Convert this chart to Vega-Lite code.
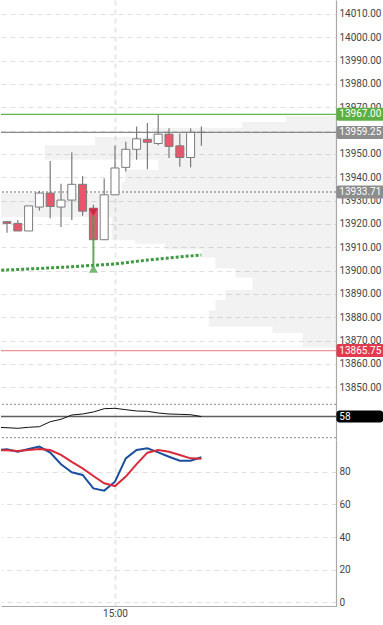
{
  "$schema": "https://vega.github.io/schema/vega-lite/v6.json",
  "padding": 0,
  "autosize": {"type": "pad"},
  "background": "white",
  "spacing": 0,
  "config": {
    "view": {"stroke": null},
    "font": "Roboto",
    "axis": {
      "labelFont": "Roboto",
      "labelFontSize": 10,
      "labelColor": "#444444",
      "labelOverlap": false,
      "domainColor": "#a9a9a9",
      "domainWidth": 1.2,
      "ticks": false,
      "gridColor": "#e0e0e0",
      "gridDash": [5, 4],
      "gridWidth": 1
    }
  },
  "datasets": {
    "candles": [
      {"time": "2021-03-01T14:50:00", "open": 13921.0, "high": 13921.0, "low": 13916.25, "close": 13920.25},
      {"time": "2021-03-01T14:51:00", "open": 13920.25, "high": 13921.75, "low": 13917.0, "close": 13917.0},
      {"time": "2021-03-01T14:52:00", "open": 13917.0, "high": 13927.75, "low": 13917.0, "close": 13927.75},
      {"time": "2021-03-01T14:53:00", "open": 13927.25, "high": 13934.25, "low": 13925.75, "close": 13933.25},
      {"time": "2021-03-01T14:54:00", "open": 13933.25, "high": 13947.0, "low": 13922.5, "close": 13927.5},
      {"time": "2021-03-01T14:55:00", "open": 13927.25, "high": 13937.25, "low": 13918.75, "close": 13930.25},
      {"time": "2021-03-01T14:56:00", "open": 13930.25, "high": 13950.75, "low": 13921.75, "close": 13937.0},
      {"time": "2021-03-01T14:57:00", "open": 13937.0, "high": 13940.5, "low": 13923.5, "close": 13925.5},
      {"time": "2021-03-01T14:58:00", "open": 13926.75, "high": 13928.25, "low": 13913.25, "close": 13913.25},
      {"time": "2021-03-01T14:59:00", "open": 13913.25, "high": 13939.5, "low": 13913.25, "close": 13932.5},
      {"time": "2021-03-01T15:00:00", "open": 13932.5, "high": 13953.5, "low": 13932.5, "close": 13944.0},
      {"time": "2021-03-01T15:01:00", "open": 13944.25, "high": 13955.25, "low": 13942.5, "close": 13952.0},
      {"time": "2021-03-01T15:02:00", "open": 13952.0, "high": 13961.75, "low": 13947.5, "close": 13956.5},
      {"time": "2021-03-01T15:03:00", "open": 13956.25, "high": 13963.25, "low": 13943.5, "close": 13955.0},
      {"time": "2021-03-01T15:04:00", "open": 13954.5, "high": 13967.0, "low": 13953.75, "close": 13958.5},
      {"time": "2021-03-01T15:05:00", "open": 13958.5, "high": 13961.0, "low": 13948.25, "close": 13953.25},
      {"time": "2021-03-01T15:06:00", "open": 13953.5, "high": 13958.75, "low": 13944.5, "close": 13948.5},
      {"time": "2021-03-01T15:07:00", "open": 13948.5, "high": 13961.0, "low": 13944.25, "close": 13959.25},
      {"time": "2021-03-01T15:08:00", "open": 13959.25, "high": 13961.75, "low": 13953.5, "close": 13959.25}
    ],
    "ind": [
      {"time": "2021-03-01T14:49:00", "ma": 13900.07, "k": 93.3, "d": 93.4, "osc": 38.7},
      {"time": "2021-03-01T14:50:00", "ma": 13900.29, "k": 93.9, "d": 93.3, "osc": 38.0},
      {"time": "2021-03-01T14:51:00", "ma": 13900.5, "k": 92.4, "d": 92.8, "osc": 36.9},
      {"time": "2021-03-01T14:52:00", "ma": 13900.71, "k": 94.0, "d": 93.4, "osc": 38.7},
      {"time": "2021-03-01T14:53:00", "ma": 13900.93, "k": 95.5, "d": 94.0, "osc": 39.8},
      {"time": "2021-03-01T14:54:00", "ma": 13901.19, "k": 91.8, "d": 93.4, "osc": 48.7},
      {"time": "2021-03-01T14:55:00", "ma": 13901.44, "k": 84.7, "d": 90.4, "osc": 53.1},
      {"time": "2021-03-01T14:56:00", "ma": 13901.66, "k": 79.8, "d": 86.1, "osc": 60.8},
      {"time": "2021-03-01T14:57:00", "ma": 13902.0, "k": 78.1, "d": 82.2, "osc": 62.6},
      {"time": "2021-03-01T14:58:00", "ma": 13902.3, "k": 69.9, "d": 77.5, "osc": 66.2},
      {"time": "2021-03-01T14:59:00", "ma": 13902.56, "k": 68.5, "d": 73.0, "osc": 72.1},
      {"time": "2021-03-01T15:00:00", "ma": 13902.86, "k": 74.0, "d": 71.3, "osc": 72.8},
      {"time": "2021-03-01T15:01:00", "ma": 13903.41, "k": 88.3, "d": 77.1, "osc": 70.3},
      {"time": "2021-03-01T15:02:00", "ma": 13903.97, "k": 93.4, "d": 84.8, "osc": 68.0},
      {"time": "2021-03-01T15:03:00", "ma": 13904.53, "k": 94.5, "d": 91.8, "osc": 67.4},
      {"time": "2021-03-01T15:04:00", "ma": 13905.0, "k": 92.0, "d": 93.4, "osc": 64.4},
      {"time": "2021-03-01T15:05:00", "ma": 13905.47, "k": 89.3, "d": 92.4, "osc": 62.6},
      {"time": "2021-03-01T15:06:00", "ma": 13905.9, "k": 86.9, "d": 90.4, "osc": 62.0},
      {"time": "2021-03-01T15:07:00", "ma": 13906.33, "k": 86.9, "d": 88.3, "osc": 61.3},
      {"time": "2021-03-01T15:08:00", "ma": 13906.71, "k": 89.0, "d": 88.1, "osc": 58.0}
    ],
    "signals": [
      {"time": "2021-03-01T14:58:00", "sell": 13925.0, "from": 13923.5, "to": 13901.0, "buy": 13900.75}
    ],
    "profile": [
      {"lo": 13963.75, "hi": 13966.25, "vol": 15},
      {"lo": 13961.25, "hi": 13963.75, "vol": 28},
      {"lo": 13957.25, "hi": 13961.25, "vol": 55},
      {"lo": 13953.75, "hi": 13957.25, "vol": 72},
      {"lo": 13947.5, "hi": 13953.75, "vol": 87},
      {"lo": 13943.25, "hi": 13947.5, "vol": 53},
      {"lo": 13938.0, "hi": 13943.25, "vol": 63},
      {"lo": 13933.25, "hi": 13938.0, "vol": 64},
      {"lo": 13923.0, "hi": 13933.25, "vol": 100},
      {"lo": 13913.0, "hi": 13923.0, "vol": 67},
      {"lo": 13911.5, "hi": 13913.0, "vol": 60},
      {"lo": 13909.0, "hi": 13911.5, "vol": 51},
      {"lo": 13905.5, "hi": 13909.0, "vol": 40},
      {"lo": 13901.0, "hi": 13905.5, "vol": 36},
      {"lo": 13897.0, "hi": 13901.0, "vol": 30},
      {"lo": 13891.75, "hi": 13897.0, "vol": 25},
      {"lo": 13887.5, "hi": 13891.75, "vol": 33},
      {"lo": 13883.0, "hi": 13887.5, "vol": 36},
      {"lo": 13876.0, "hi": 13883.0, "vol": 38},
      {"lo": 13873.25, "hi": 13876.0, "vol": 19},
      {"lo": 13867.0, "hi": 13873.25, "vol": 10}
    ],
    "priceTags": [
      {"price": 13967.0, "kind": "high"},
      {"price": 13959.25, "kind": "last"},
      {"price": 13933.71, "kind": "mean"},
      {"price": 13865.75, "kind": "low"}
    ],
    "oscBands": [{"level": 80}, {"level": 20}],
    "oscTag": [{"value": 58}]
  },
  "resolve": {"scale": {"x": "independent", "y": "independent"}},
  "vconcat": [
    {
      "width": 335,
      "height": 395,
      "resolve": {"scale": {"x": "independent"}, "axis": {"x": "independent"}},
      "layer": [
        {
          "data": {"name": "profile"},
          "mark": {"type": "rect", "color": "#000000", "opacity": 0.05},
          "encoding": {
            "x": {"field": "vol", "type": "quantitative", "scale": {"domain": [0, 100], "reverse": true, "nice": false, "zero": false, "padding": 0}, "axis": null},
            "x2": {"datum": 0},
            "y": {
              "field": "lo", "type": "quantitative",
              "scale": {"domain": [13846.7, 14016.0], "nice": false, "zero": false, "padding": 0},
              "axis": {
                "orient": "right", "title": null, "grid": true, "format": ".2f", "labelPadding": 3, "tickCount": 40,
                "values": [13850, 13860, 13870, 13880, 13890, 13900, 13910, 13920, 13930, 13940, 13950, 13960, 13970, 13980, 13990, 14000, 14010]
              }
            },
            "y2": {"field": "hi"}
          }
        },
        {
          "layer": [
            {
              "data": {"name": "priceTags"},
              "mark": {"type": "rule", "strokeWidth": 1.2},
              "encoding": {
                "y": {"field": "price", "type": "quantitative", "title": null},
                "stroke": {"field": "kind", "type": "nominal", "legend": null,
                  "scale": {"domain": ["high", "last", "mean", "low"], "range": ["#66b34d", "#8a8a8a", "#6e6e6e", "#f2939c"]}},
                "strokeDash": {"field": "kind", "type": "nominal", "legend": null,
                  "scale": {"domain": ["high", "last", "mean", "low"], "range": [[1, 0], [1, 0], [2, 2], [1, 0]]}}
              }
            },
            {
              "mark": {"type": "rule", "stroke": "#a8101c", "strokeWidth": 2, "strokeDash": [2, 1.2], "clip": true},
              "encoding": {
                "x": {"datum": {"year": 2021, "month": 3, "date": 1, "hours": 14, "minutes": 49, "seconds": 26, "milliseconds": 670}, "type": "temporal"},
                "x2": {"datum": {"year": 2021, "month": 3, "date": 1, "hours": 15, "minutes": 8}},
                "y": {"datum": 14011.75, "type": "quantitative"}
              }
            },
            {
              "mark": {"type": "rule", "stroke": "#111111", "strokeWidth": 1.5, "clip": true},
              "encoding": {
                "x": {"datum": {"year": 2021, "month": 3, "date": 1, "hours": 14, "minutes": 49, "seconds": 26, "milliseconds": 670}, "type": "temporal"},
                "x2": {"datum": {"year": 2021, "month": 3, "date": 1, "hours": 15, "minutes": 8}},
                "y": {"datum": 13875.0, "type": "quantitative"}
              }
            },
            {
              "data": {"name": "ind"},
              "mark": {"type": "line", "stroke": "#3f9a43", "strokeWidth": 3, "strokeDash": [3, 2], "clip": true},
              "encoding": {
                "x": {"field": "time", "type": "temporal"},
                "y": {"field": "ma", "type": "quantitative", "title": null}
              }
            },
            {
              "data": {"name": "candles"},
              "mark": {"type": "rule", "stroke": "#7b7b7b", "strokeWidth": 1.2, "clip": true},
              "encoding": {
                "x": {
                  "field": "time", "type": "temporal",
                  "scale": {"nice": false, "padding": 0, "domain": [
                    {"year": 2021, "month": 3, "date": 1, "hours": 14, "minutes": 49, "seconds": 26, "milliseconds": 670},
                    {"year": 2021, "month": 3, "date": 1, "hours": 15, "minutes": 20, "seconds": 27, "milliseconds": 800}
                  ]},
                  "axis": {
                    "title": null, "labels": false, "domain": false, "ticks": false, "grid": true,
                    "gridWidth": 2, "gridColor": "#e8e8e8", "gridDash": [5, 4],
                    "values": [{"year": 2021, "month": 3, "date": 1, "hours": 15, "minutes": 0}]
                  }
                },
                "y": {"field": "low", "type": "quantitative", "title": null},
                "y2": {"field": "high"}
              }
            },
            {
              "data": {"name": "candles"},
              "mark": {"type": "bar", "size": 8, "stroke": "#7b7b7b", "strokeWidth": 1, "clip": true},
              "encoding": {
                "x": {"field": "time", "type": "temporal"},
                "y": {"field": "open", "type": "quantitative", "title": null},
                "y2": {"field": "close"},
                "fill": {"condition": {"test": "datum.close >= datum.open", "value": "#ffffff"}, "value": "#e8566c"}
              }
            },
            {
              "data": {"name": "signals"},
              "mark": {"type": "point", "shape": "triangle-down", "filled": true, "size": 75, "color": "#cf2238", "opacity": 0.9},
              "encoding": {
                "x": {"field": "time", "type": "temporal"},
                "y": {"field": "sell", "type": "quantitative", "title": null}
              }
            },
            {
              "data": {"name": "signals"},
              "mark": {"type": "rule", "stroke": "#4f9f4f", "strokeWidth": 2, "opacity": 0.9},
              "encoding": {
                "x": {"field": "time", "type": "temporal"},
                "y": {"field": "from", "type": "quantitative", "title": null},
                "y2": {"field": "to"}
              }
            },
            {
              "data": {"name": "signals"},
              "mark": {"type": "point", "shape": "triangle-up", "filled": true, "size": 80, "color": "#5fae5f", "opacity": 0.85},
              "encoding": {
                "x": {"field": "time", "type": "temporal"},
                "y": {"field": "buy", "type": "quantitative", "title": null}
              }
            },
            {
              "data": {"name": "priceTags"},
              "mark": {"type": "bar", "size": 13, "cornerRadius": 2, "clip": false},
              "encoding": {
                "x": {"datum": {"year": 2021, "month": 3, "date": 1, "hours": 15, "minutes": 20, "seconds": 30}, "type": "temporal"},
                "x2": {"datum": {"year": 2021, "month": 3, "date": 1, "hours": 15, "minutes": 24, "seconds": 55}},
                "y": {"field": "price", "type": "quantitative", "title": null},
                "fill": {"field": "kind", "type": "nominal", "legend": null,
                  "scale": {"domain": ["high", "last", "mean", "low"], "range": ["#5cb043", "#8d8d8d", "#8d8d8d", "#e23b50"]}}
              }
            },
            {
              "data": {"name": "priceTags"},
              "mark": {"type": "text", "align": "left", "baseline": "middle", "fontSize": 10, "font": "Roboto", "color": "#ffffff", "clip": false},
              "encoding": {
                "x": {"datum": {"year": 2021, "month": 3, "date": 1, "hours": 15, "minutes": 20, "seconds": 46}, "type": "temporal"},
                "y": {"field": "price", "type": "quantitative", "title": null},
                "text": {"field": "price", "type": "quantitative", "format": ".2f"}
              }
            }
          ]
        }
      ]
    },
    {
      "width": 335,
      "height": 45,
      "layer": [
        {
          "data": {"name": "oscBands"},
          "mark": {"type": "rule", "stroke": "#8a8a8a", "strokeWidth": 1, "strokeDash": [2, 2]},
          "encoding": {
            "y": {
              "field": "level", "type": "quantitative",
              "scale": {"domain": [15.9, 96.7], "nice": false, "zero": false, "padding": 0},
              "axis": {"orient": "right", "title": null, "labels": false, "grid": false, "ticks": false}
            }
          }
        },
        {
          "mark": {"type": "rule", "stroke": "#e3e3e3", "strokeWidth": 1, "strokeDash": [5, 4]},
          "encoding": {"y": {"datum": 53, "type": "quantitative"}}
        },
        {
          "data": {"name": "oscTag"},
          "mark": {"type": "rule", "stroke": "#5e5e5e", "strokeWidth": 1.5},
          "encoding": {"y": {"field": "value", "type": "quantitative", "title": null}}
        },
        {
          "data": {"name": "ind"},
          "mark": {"type": "line", "stroke": "#111111", "strokeWidth": 1, "clip": true},
          "encoding": {
            "x": {
              "field": "time", "type": "temporal",
              "scale": {"nice": false, "padding": 0, "domain": [
                {"year": 2021, "month": 3, "date": 1, "hours": 14, "minutes": 49, "seconds": 26, "milliseconds": 670},
                {"year": 2021, "month": 3, "date": 1, "hours": 15, "minutes": 20, "seconds": 27, "milliseconds": 800}
              ]},
              "axis": {
                "title": null, "labels": false, "domain": false, "ticks": false, "grid": true,
                "gridWidth": 2, "gridColor": "#e8e8e8", "gridDash": [5, 4],
                "values": [{"year": 2021, "month": 3, "date": 1, "hours": 15, "minutes": 0}]
              }
            },
            "y": {"field": "osc", "type": "quantitative", "title": null}
          }
        },
        {
          "data": {"name": "oscTag"},
          "mark": {"type": "bar", "size": 12, "cornerRadius": 3, "fill": "#000000", "clip": false},
          "encoding": {
            "x": {"datum": {"year": 2021, "month": 3, "date": 1, "hours": 15, "minutes": 20, "seconds": 30}, "type": "temporal"},
            "x2": {"datum": {"year": 2021, "month": 3, "date": 1, "hours": 15, "minutes": 24, "seconds": 50}},
            "y": {"field": "value", "type": "quantitative", "title": null}
          }
        },
        {
          "data": {"name": "oscTag"},
          "mark": {"type": "text", "align": "left", "baseline": "middle", "fontSize": 10, "font": "Roboto", "color": "#ffffff", "clip": false},
          "encoding": {
            "x": {"datum": {"year": 2021, "month": 3, "date": 1, "hours": 15, "minutes": 20, "seconds": 46}, "type": "temporal"},
            "y": {"field": "value", "type": "quantitative", "title": null},
            "text": {"field": "value", "type": "quantitative", "format": "d"}
          }
        }
      ]
    },
    {
      "width": 335,
      "height": 166,
      "data": {"name": "ind"},
      "layer": [
        {
          "mark": {"type": "line", "stroke": "#1c4e9e", "strokeWidth": 2, "clip": true},
          "encoding": {
            "x": {
              "field": "time", "type": "temporal",
              "scale": {"nice": false, "padding": 0, "domain": [
                {"year": 2021, "month": 3, "date": 1, "hours": 14, "minutes": 49, "seconds": 26, "milliseconds": 670},
                {"year": 2021, "month": 3, "date": 1, "hours": 15, "minutes": 20, "seconds": 27, "milliseconds": 800}
              ]},
              "axis": {
                "orient": "bottom", "title": null, "format": "%H:%M", "labelFlush": false, "labelPadding": 2,
                "ticks": false, "grid": true, "gridWidth": 2, "gridColor": "#e8e8e8", "gridDash": [5, 4],
                "values": [{"year": 2021, "month": 3, "date": 1, "hours": 15, "minutes": 0}]
              }
            },
            "y": {
              "field": "k", "type": "quantitative",
              "scale": {"domain": [-2.27, 99.57], "nice": false, "zero": false, "padding": 0},
              "axis": {"orient": "right", "title": null, "grid": true, "format": "d", "labelPadding": 3, "tickCount": 10, "values": [0, 20, 40, 60, 80]}
            }
          }
        },
        {
          "mark": {"type": "line", "stroke": "#d92b3a", "strokeWidth": 2, "clip": true},
          "encoding": {
            "x": {"field": "time", "type": "temporal"},
            "y": {"field": "d", "type": "quantitative", "title": null}
          }
        }
      ]
    }
  ]
}
